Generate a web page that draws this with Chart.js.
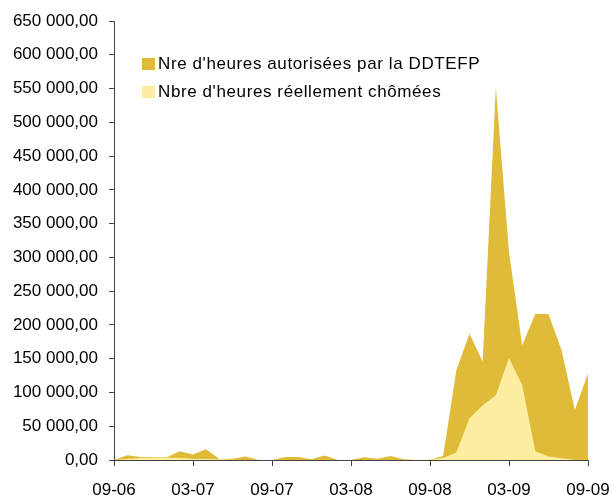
<!DOCTYPE html>
<html>
<head>
    <title>Heures chômées</title>
    <script src="https://cdn.jsdelivr.net/npm/chart.js@4.4.0/dist/chart.umd.min.js"></script>
    <style>
        body { margin: 0; background: #fff; }
        #wrap { width: 614px; height: 495px; }
    </style>
</head>
<body>
    <div id="wrap"><canvas id="myChart" width="614" height="495"></canvas></div>
    <script>
        // months 09-06 .. 09-09
        var months = ['09-06','10-06','11-06','12-06','01-07','02-07','03-07','04-07','05-07','06-07','07-07','08-07',
                      '09-07','10-07','11-07','12-07','01-08','02-08','03-08','04-08','05-08','06-08','07-08','08-08',
                      '09-08','10-08','11-08','12-08','01-09','02-09','03-09','04-09','05-09','06-09','07-09','08-09','09-09'];

        var heuresAutorisees = [0, 7000, 4500, 4000, 4000, 13000, 8000, 16000, 1500, 2000, 5000, 0,
                                0, 4500, 4500, 1000, 6500, 0, 0, 4000, 2000, 6000, 1000, 0,
                                500, 6000, 133000, 187000, 146000, 551000, 308000, 170000, 216000, 216000, 162000, 74000, 128000];

        var heuresChomees = [0, 1500, 3000, 3500, 3500, 3000, 2000, 1500, 1000, 500, 0, 0,
                             0, 0, 0, 0, 0, 0, 0, 0, 0, 0, 0, 0,
                             500, 3000, 11000, 62000, 81000, 96000, 151000, 111000, 13000, 5000, 2500, 0, 0];

        var seriesLabels = ["Nre d'heures autorisées par la DDTEFP", "Nbre d'heures réellement chômées"];
        var seriesColors = ['rgb(224, 187, 55)', 'rgb(252, 237, 160)'];

        var FONT = 'Liberation Sans, Arial, sans-serif';

        function formatFr(v) {
            var s = Math.round(v).toString().replace(/\B(?=(\d{3})+(?!\d))/g, ' ');
            return s + ',00';
        }

        // legend drawn inside plot area, top-left
        var insideLegend = {
            id: 'insideLegend',
            afterDraw: function(chart) {
                var c = chart.ctx;
                c.save();
                c.font = '17px ' + FONT;
                c.letterSpacing = '0.6px';
                c.textBaseline = 'middle';
                for (var i = 0; i < seriesLabels.length; i++) {
                    var y = 64 + i * 28;
                    c.fillStyle = seriesColors[i];
                    c.fillRect(142, y - 6, 13, 12);
                    c.fillStyle = '#000';
                    c.fillText(seriesLabels[i], 158, y);
                }
                c.restore();
            }
        };

        var ctx = document.getElementById('myChart').getContext('2d');
        var myChart = new Chart(ctx, {
            type: 'line',
            data: {
                labels: months,
                datasets: [{
                    label: seriesLabels[0],
                    data: heuresAutorisees,
                    backgroundColor: seriesColors[0],
                    borderWidth: 0,
                    pointRadius: 0,
                    fill: 'origin',
                    tension: 0,
                    order: 2
                }, {
                    label: seriesLabels[1],
                    data: heuresChomees,
                    backgroundColor: seriesColors[1],
                    borderWidth: 0,
                    pointRadius: 0,
                    fill: 'origin',
                    tension: 0,
                    order: 1
                }]
            },
            options: {
                responsive: false,
                animation: false,
                layout: { padding: { top: 21, right: 26, left: 0, bottom: 0 } },
                plugins: { legend: { display: false }, tooltip: { enabled: false } },
                scales: {
                    x: {
                        offset: false,
                        grid: {
                            drawOnChartArea: false,
                            tickLength: 6,
                            color: function(c) { return c.index % 6 === 0 ? '#444' : 'rgba(0,0,0,0)'; }
                        },
                        border: { color: '#444', width: 1 },
                        ticks: {
                            autoSkip: false,
                            maxRotation: 0,
                            padding: 14,
                            color: '#000',
                            font: { family: FONT, size: 17 },
                            callback: function(val, idx) { return idx % 6 === 0 ? months[idx] : ''; }
                        },
                        afterFit: function(s) { s.height = 35; s.paddingLeft = 0; s.paddingRight = 0; }
                    },
                    y: {
                        min: 0,
                        max: 650000,
                        grid: { drawOnChartArea: false, tickLength: 5, color: '#444' },
                        border: { color: '#444', width: 1 },
                        ticks: {
                            stepSize: 50000,
                            padding: 11,
                            color: '#000',
                            font: { family: FONT, size: 17 },
                            callback: function(v) { return formatFr(v); }
                        },
                        afterFit: function(s) { s.width = 114; s.paddingTop = 0; s.paddingBottom = 0; }
                    }
                }
            },
            plugins: [insideLegend]
        });
    </script>
</body>
</html>
